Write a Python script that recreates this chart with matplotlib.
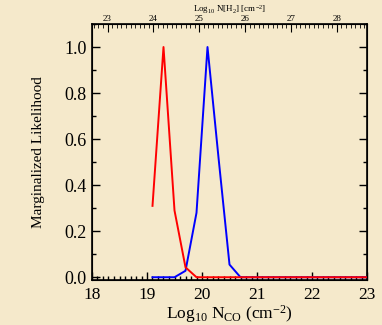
import numpy as np
import matplotlib
matplotlib.use("Agg")
import matplotlib.pyplot as plt
from matplotlib.ticker import MultipleLocator

# Marginalized likelihood curves
n_co_red = [19.1, 19.3, 19.5, 19.7, 19.9, 20.5, 21.0, 22.0, 23.0]
like_red = [0.31, 1.0, 0.29, 0.043, 0.0, 0.0, 0.0, 0.0, 0.0]

n_co_blue = [19.1, 19.3, 19.5, 19.7, 19.9, 20.1, 20.3, 20.5, 20.7, 21.0, 22.0, 23.0]
like_blue = [0.0, 0.0, 0.0, 0.028, 0.28, 1.0, 0.52, 0.055, 0.0, 0.0, 0.0, 0.0]

bottom_ticks = [18, 19, 20, 21, 22, 23]
top_ticks = [23, 24, 25, 26, 27, 28]
y_ticks = [0.0, 0.2, 0.4, 0.6, 0.8, 1.0]

bg = "#f5e9cb"
plt.rcParams["font.family"] = ["Liberation Serif", "DejaVu Serif"]
plt.rcParams["mathtext.fontset"] = "custom"
plt.rcParams["mathtext.rm"] = "Liberation Serif"
plt.rcParams["mathtext.it"] = "Liberation Serif:italic"

fig = plt.figure(figsize=(3.82, 3.25), dpi=100, facecolor=bg)
ax = fig.add_axes([92 / 382, 1 - 280 / 325, 275 / 382, 256 / 325])
ax.set_facecolor(bg)

ax.plot(n_co_blue, like_blue, color="blue", lw=1.4, zorder=3)
ax.plot(n_co_red, like_red, color="red", lw=1.4, zorder=4)

ax.set_xlim(18, 23)
ax.set_ylim(-0.012, 1.1)
ax.set_xticks(bottom_ticks)
ax.set_yticks(y_ticks)
ax.set_yticklabels([f"{v:.1f}" for v in y_ticks])
ax.xaxis.set_minor_locator(MultipleLocator(0.1))
ax.yaxis.set_minor_locator(MultipleLocator(0.1))
ax.tick_params(which="both", direction="in", top=False, right=True,
               width=1.0, colors="black")
ax.tick_params(which="major", length=6)
ax.tick_params(which="minor", length=3)
ax.tick_params(axis="x", labelsize=12.5, pad=5)
ax.tick_params(axis="y", labelsize=13, pad=4)
for s in ax.spines.values():
    s.set_linewidth(1.2)

ax.set_xlabel(r"Log$_{10}$ N$_{\rm CO}$ (cm$^{-2}$)", fontsize=12.5, labelpad=0)
ax.set_ylabel("Marginalized Likelihood", fontsize=11, labelpad=14)

top = ax.twiny()
top.set_xlim(22.66, 28.66)
top.set_xticks(top_ticks)
top.xaxis.set_minor_locator(MultipleLocator(0.1))
top.tick_params(which="both", direction="in", labelsize=6.5, pad=1)
top.tick_params(which="major", length=6)
top.tick_params(which="minor", length=3)

# top-axis title sits just above the small tick labels
fig.text(229.5 / 382, 1 - 9 / 325, r"Log$_{10}$ N[H$_2$] [cm$^{-2}$]",
         fontsize=6.5, ha="center", va="center")

fig.savefig("out.png", dpi=100, facecolor=bg)
